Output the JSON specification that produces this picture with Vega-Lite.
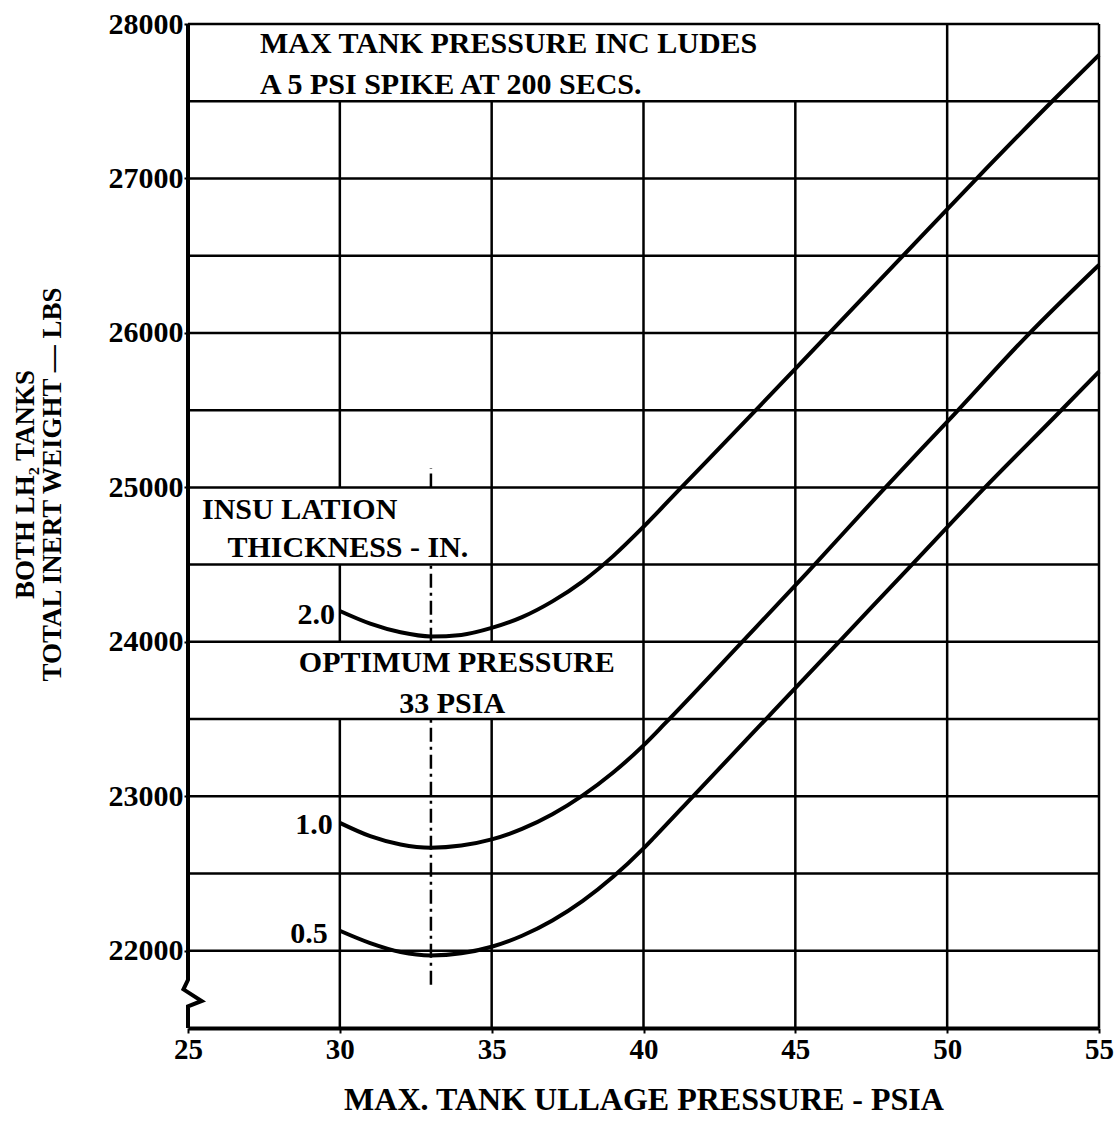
{
  "$schema": "https://vega.github.io/schema/vega-lite/v6.json",
  "width": 911,
  "height": 1004,
  "autosize": "none",
  "padding": {"left": 188, "top": 24, "right": 18, "bottom": 108},
  "background": "white",
  "config": {
    "view": {"stroke": null},
    "font": "Liberation Serif",
    "axis": {"labelColor": "black", "titleColor": "black", "tickColor": "black", "domainColor": "black", "labelFont": "Liberation Serif", "titleFont": "Liberation Serif", "labelFontWeight": "bold", "titleFontWeight": "bold"}
  },
  "datasets": {
    "vgrid": [
      {"x": 30, "y": 21500, "y2": 23500},
      {"x": 30, "y": 24000, "y2": 24500},
      {"x": 30, "y": 25000, "y2": 27500},
      {"x": 35, "y": 21500, "y2": 23500},
      {"x": 35, "y": 24000, "y2": 27500},
      {"x": 40, "y": 21500, "y2": 27500},
      {"x": 45, "y": 21500, "y2": 27500},
      {"x": 50, "y": 21500, "y2": 28000},
      {"x": 55, "y": 21500, "y2": 28000}
    ],
    "hgrid": [
      {"y": 22000}, {"y": 22500}, {"y": 23000}, {"y": 23500}, {"y": 24000}, {"y": 24500},
      {"y": 25000}, {"y": 25500}, {"y": 26000}, {"y": 26500}, {"y": 27000}, {"y": 27500}, {"y": 28000}
    ],
    "optimum": [
      {"x": 33, "y": 21780, "y2": 23500},
      {"x": 33, "y": 24000, "y2": 24500},
      {"x": 33, "y": 25000, "y2": 25125}
    ],
    "leftAxis": [
      {"i": 0, "x": 25, "y": 21500},
      {"i": 1, "x": 25, "y": 21640},
      {"i": 2, "x": 25.45, "y": 21675},
      {"i": 3, "x": 24.85, "y": 21750},
      {"i": 4, "x": 25, "y": 21812},
      {"i": 5, "x": 25, "y": 28000}
    ],
    "curves": [
      {"t": "2.0", "x": 30, "y": 24200}, {"t": "2.0", "x": 31, "y": 24118}, {"t": "2.0", "x": 32, "y": 24062},
      {"t": "2.0", "x": 33, "y": 24035}, {"t": "2.0", "x": 34, "y": 24045}, {"t": "2.0", "x": 35, "y": 24090},
      {"t": "2.0", "x": 36, "y": 24160}, {"t": "2.0", "x": 37, "y": 24262}, {"t": "2.0", "x": 38, "y": 24392},
      {"t": "2.0", "x": 39, "y": 24555}, {"t": "2.0", "x": 40, "y": 24745}, {"t": "2.0", "x": 41.2, "y": 24990},
      {"t": "2.0", "x": 43.7, "y": 25500}, {"t": "2.0", "x": 46.0, "y": 25975}, {"t": "2.0", "x": 48.5, "y": 26490},
      {"t": "2.0", "x": 50.9, "y": 26985}, {"t": "2.0", "x": 53.46, "y": 27500}, {"t": "2.0", "x": 55, "y": 27800},
      {"t": "1.0", "x": 30, "y": 22828}, {"t": "1.0", "x": 31, "y": 22742}, {"t": "1.0", "x": 32, "y": 22688},
      {"t": "1.0", "x": 33, "y": 22667}, {"t": "1.0", "x": 34, "y": 22681}, {"t": "1.0", "x": 35, "y": 22721},
      {"t": "1.0", "x": 36, "y": 22789}, {"t": "1.0", "x": 37, "y": 22884}, {"t": "1.0", "x": 38, "y": 23006},
      {"t": "1.0", "x": 39, "y": 23154}, {"t": "1.0", "x": 40, "y": 23330}, {"t": "1.0", "x": 40.7, "y": 23470},
      {"t": "1.0", "x": 43.25, "y": 24000}, {"t": "1.0", "x": 45.4, "y": 24450}, {"t": "1.0", "x": 47.8, "y": 24965},
      {"t": "1.0", "x": 50.24, "y": 25475}, {"t": "1.0", "x": 52.6, "y": 25975}, {"t": "1.0", "x": 55, "y": 26440},
      {"t": "0.5", "x": 30, "y": 22130}, {"t": "0.5", "x": 31, "y": 22050}, {"t": "0.5", "x": 32, "y": 21992},
      {"t": "0.5", "x": 33, "y": 21970}, {"t": "0.5", "x": 34, "y": 21984}, {"t": "0.5", "x": 35, "y": 22026},
      {"t": "0.5", "x": 36, "y": 22097}, {"t": "0.5", "x": 37, "y": 22196}, {"t": "0.5", "x": 38, "y": 22323},
      {"t": "0.5", "x": 39, "y": 22479}, {"t": "0.5", "x": 40, "y": 22663}, {"t": "0.5", "x": 40.36, "y": 22736},
      {"t": "0.5", "x": 41.63, "y": 23000}, {"t": "0.5", "x": 44.02, "y": 23497}, {"t": "0.5", "x": 46.4, "y": 23992},
      {"t": "0.5", "x": 48.88, "y": 24508}, {"t": "0.5", "x": 51.16, "y": 24982}, {"t": "0.5", "x": 53.66, "y": 25480},
      {"t": "0.5", "x": 55, "y": 25750}
    ],
    "notesLeft": [
      {"x": 27.37, "y": 27871, "text": "MAX TANK PRESSURE INC LUDES"},
      {"x": 27.37, "y": 27605, "text": "A 5 PSI SPIKE AT 200 SECS."},
      {"x": 25.46, "y": 24854, "text": "INSU LATION"},
      {"x": 26.3, "y": 24608, "text": "THICKNESS - IN."}
    ],
    "curveLabels": [
      {"x": 29.84, "y": 24175, "text": "2.0"},
      {"x": 29.77, "y": 22816, "text": "1.0"},
      {"x": 29.6, "y": 22110, "text": "0.5"}
    ],
    "notesCenter": [
      {"x": 33.85, "y": 23864, "text": "OPTIMUM  PRESSURE"},
      {"x": 33.7, "y": 23599, "text": "33  PSIA"}
    ]
  },
  "layer": [
    {
      "data": {"name": "vgrid"},
      "mark": {"type": "rule", "color": "black", "strokeWidth": 2.5},
      "encoding": {
        "x": {"field": "x", "type": "quantitative", "scale": {"domain": [25, 55], "nice": false, "zero": false},
          "axis": {"title": "MAX. TANK ULLAGE PRESSURE - PSIA", "values": [25, 30, 35, 40, 45, 50, 55], "grid": false,
            "domain": true, "domainWidth": 4, "tickSize": 5, "tickWidth": 2, "labelFontSize": 29, "labelPadding": 2,
            "titleFontSize": 32, "titlePadding": 20, "labelOverlap": false, "labelFlush": false}},
        "y": {"field": "y", "type": "quantitative", "scale": {"domain": [21500, 28000], "nice": false, "zero": false},
          "axis": {"title": ["BOTH LH₂ TANKS", "TOTAL INERT WEIGHT — LBS"], "values": [22000, 23000, 24000, 25000, 26000, 27000, 28000],
            "format": "d", "grid": false, "domain": false, "tickSize": 4, "tickWidth": 2, "labelFontSize": 30, "labelPadding": 1,
            "titleFontSize": 27, "titleAngle": 270, "titleX": -176, "titleY": 460, "titleAlign": "center", "titleBaseline": "top", "titleLineHeight": 27,
            "labelOverlap": false, "labelFlush": false}},
        "y2": {"field": "y2"}
      }
    },
    {
      "data": {"name": "hgrid"},
      "mark": {"type": "rule", "color": "black", "strokeWidth": 2.5},
      "encoding": {"y": {"field": "y", "type": "quantitative"}}
    },
    {
      "data": {"name": "optimum"},
      "mark": {"type": "rule", "color": "black", "strokeWidth": 2.5, "strokeDash": [14, 5, 3, 5]},
      "encoding": {"x": {"field": "x", "type": "quantitative"}, "y": {"field": "y", "type": "quantitative"}, "y2": {"field": "y2"}}
    },
    {
      "data": {"name": "leftAxis"},
      "mark": {"type": "line", "color": "black", "strokeWidth": 4},
      "encoding": {"x": {"field": "x", "type": "quantitative"}, "y": {"field": "y", "type": "quantitative"}, "order": {"field": "i"}}
    },
    {
      "data": {"name": "curves"},
      "mark": {"type": "line", "color": "black", "strokeWidth": 4, "interpolate": "monotone"},
      "encoding": {"x": {"field": "x", "type": "quantitative"}, "y": {"field": "y", "type": "quantitative"}, "detail": {"field": "t"}}
    },
    {
      "data": {"name": "notesLeft"},
      "mark": {"type": "text", "align": "left", "baseline": "middle", "font": "Liberation Serif", "fontWeight": "bold", "fontSize": 30, "color": "black"},
      "encoding": {"x": {"field": "x", "type": "quantitative"}, "y": {"field": "y", "type": "quantitative"}, "text": {"field": "text"}}
    },
    {
      "data": {"name": "curveLabels"},
      "mark": {"type": "text", "align": "right", "baseline": "middle", "font": "Liberation Serif", "fontWeight": "bold", "fontSize": 30, "color": "black"},
      "encoding": {"x": {"field": "x", "type": "quantitative"}, "y": {"field": "y", "type": "quantitative"}, "text": {"field": "text"}}
    },
    {
      "data": {"name": "notesCenter"},
      "mark": {"type": "text", "align": "center", "baseline": "middle", "font": "Liberation Serif", "fontWeight": "bold", "fontSize": 30, "color": "black"},
      "encoding": {"x": {"field": "x", "type": "quantitative"}, "y": {"field": "y", "type": "quantitative"}, "text": {"field": "text"}}
    }
  ]
}
